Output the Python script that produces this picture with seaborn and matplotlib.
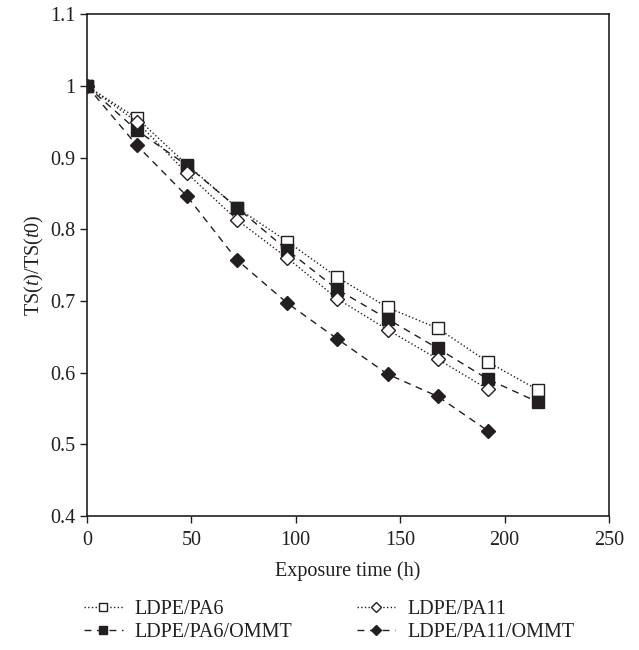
import numpy as np
import pandas as pd
import matplotlib
matplotlib.use("Agg")
import matplotlib.pyplot as plt
import seaborn as sns

hours = [0, 24, 48, 72, 96, 120, 144, 168, 192, 216]
pa6 = [1.0, 0.955, 0.89, 0.83, 0.783, 0.733, 0.691, 0.662, 0.615, 0.576]
pa6_ommt = [1.0, 0.938, 0.889, 0.83, 0.771, 0.716, 0.675, 0.634, 0.591, 0.559]
pa11 = [1.0, 0.95, 0.878, 0.813, 0.76, 0.703, 0.66, 0.619, 0.577]
pa11_ommt = [1.0, 0.917, 0.846, 0.757, 0.697, 0.647, 0.598, 0.567, 0.519]

labels = ["LDPE/PA6", "LDPE/PA6/OMMT", "LDPE/PA11", "LDPE/PA11/OMMT"]

sns.set_style("ticks")
plt.rcParams['font.family'] = ['Liberation Serif', 'DejaVu Serif']
plt.rcParams['mathtext.fontset'] = 'custom'
plt.rcParams['mathtext.it'] = 'Liberation Serif:italic'
plt.rcParams['mathtext.rm'] = 'Liberation Serif'

ink = "#231f20"
fs = 14.5
fig = plt.figure(figsize=(6.39, 6.5), dpi=100)
ax = fig.add_axes([0.136, 0.206, 0.817, 0.772])

# order matters for the 2-column legend (fills column by column)
series = [
    (hours, pa6, labels[0], ":", "s", "white"),
    (hours, pa6_ommt, labels[1], (0, (5, 4)), "s", ink),
    (hours[:9], pa11, labels[2], ":", "D", "white"),
    (hours[:9], pa11_ommt, labels[3], (0, (5, 4)), "D", ink),
]
for x, y, lab, ls, mk, fc in series:
    df = pd.DataFrame({"t": x, "v": y})
    sns.lineplot(data=df, x="t", y="v", ax=ax, color=ink, linestyle=ls, lw=1.0,
                 marker=mk, markersize=8 if mk == "s" else 7.5,
                 markerfacecolor=fc, markeredgecolor=ink, markeredgewidth=1.0,
                 label=lab)

ax.set_xlim(0, 250)
ax.set_ylim(0.4, 1.1)
ax.set_xticks([0, 50, 100, 150, 200, 250])
ax.set_yticks(np.arange(0.4, 1.11, 0.1))
ax.set_yticklabels(["0.4", "0.5", "0.6", "0.7", "0.8", "0.9", "1", "1.1"])
ax.tick_params(direction="out", length=5, width=1, colors=ink, labelsize=fs)
ax.tick_params(axis="x", pad=6)
for s in ax.spines.values():
    s.set_color(ink)
    s.set_linewidth(1.2)
ax.set_xlabel("Exposure time (h)", fontsize=fs, color=ink, labelpad=8)
ax.set_ylabel("TS($t$)/TS($t0$)", fontsize=fs, color=ink, labelpad=3)

h, l = ax.get_legend_handles_labels()
ax.legend(h, l, loc="upper left", bbox_to_anchor=(-0.005, -0.168), ncol=2,
          frameon=False, fontsize=fs, handlelength=1.9, columnspacing=3.2,
          labelspacing=0.15, handletextpad=0.6, borderpad=0, borderaxespad=0,
          markerscale=0.65, labelcolor=ink)

fig.savefig("out.png", dpi=100)
